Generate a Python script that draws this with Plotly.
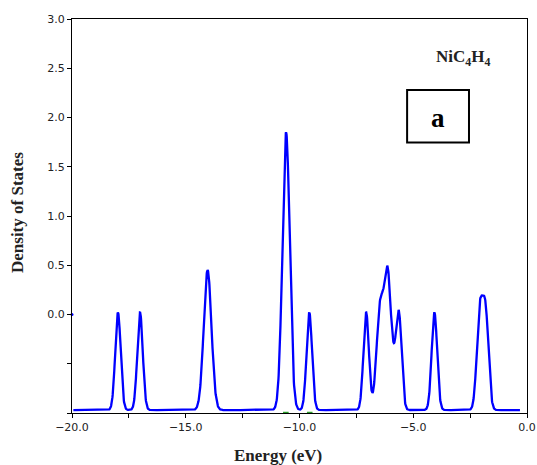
import numpy as np
import plotly.graph_objects as go

# Energy levels (eV), peak weights and broadening
level_energy = [-17.98, -17.01, -14.04, -10.59, -9.57, -7.07, -6.45, -6.12, -5.85, -5.63, -4.07, -2.08, -1.82]
level_weight = [0.99, 0.99, 1.42, 2.82, 0.99, 0.99, 1.05, 1.30, 0.30, 0.95, 0.99, 0.96, 0.96]
level_sigma = [0.12, 0.12, 0.17, 0.16, 0.12, 0.12, 0.16, 0.14, 0.12, 0.12, 0.12, 0.13, 0.13]
baseline = -0.97
e_start, e_end = -19.94, -0.31

x_ticks = [-20, -17.5, -15, -12.5, -10, -7.5, -5, -2.5, 0]
x_labels = ["\u221220.0", "", "\u221215.0", "", "\u221210.0", "", "\u22125.0", "", "0.0"]
y_ticks = [-1.0, -0.5, 0.0, 0.5, 1.0, 1.5, 2.0, 2.5, 3.0]
y_labels = ["", "", "0.0", "0.5", "1.0", "1.5", "2.0", "2.5", "3.0"]

energy = np.linspace(e_start, e_end, 2000)
dos = np.full_like(energy, baseline)
for e0, w, s in zip(level_energy, level_weight, level_sigma):
    dos += w * np.exp(-0.5 * ((energy - e0) / s) ** 2)

fig = go.Figure()
fig.add_trace(go.Scatter(x=energy, y=dos, mode="lines",
                         line=dict(color="#0000ff", width=2.3), showlegend=False))
# small blue mark at the origin of the y scale and tiny green marks near the axis
fig.add_trace(go.Scatter(x=[-20], y=[0.0], mode="markers",
                         marker=dict(color="#0000ff", size=3), showlegend=False, cliponaxis=False))
fig.add_trace(go.Scatter(x=[-10.6, -9.55], y=[-0.995, -0.995], mode="markers",
                         marker=dict(color="#2a9d2a", size=4, symbol="line-ew", line=dict(width=1.5, color="#2a9d2a")),
                         showlegend=False, cliponaxis=False))

axis_common = dict(showline=True, linecolor="black", linewidth=1, mirror=True, automargin=False,
                   ticks="outside", ticklen=4, tickcolor="black", showgrid=False, zeroline=False,
                   tickfont=dict(family="DejaVu Sans", size=11, color="#222"))

fig.update_layout(
    width=537, height=465,
    margin=dict(l=72, r=10, t=19, b=52),
    paper_bgcolor="white", plot_bgcolor="white",
    xaxis=dict(range=[-20, 0], tickvals=x_ticks, ticktext=x_labels, **axis_common),
    yaxis=dict(range=[-1, 3], tickvals=y_ticks, ticktext=y_labels, **axis_common),
)

# axis titles
fig.add_annotation(x=0.452, y=-0.108, xref="paper", yref="paper", showarrow=False,
                   xanchor="center", yanchor="middle",
                   text="<b>Energy (eV)</b>", font=dict(family="Liberation Serif", size=17, color="#222"))
fig.add_annotation(x=-0.121, y=0.51, xref="paper", yref="paper", showarrow=False, textangle=-90,
                   xanchor="center", yanchor="middle",
                   text="<b>Density of States</b>", font=dict(family="Liberation Serif", size=17, color="#222"))

fig.add_annotation(x=-2.83, y=2.6, xref="x", yref="y", showarrow=False,
                   text="<b>NiC<sub>4</sub>H<sub>4</sub></b>",
                   font=dict(family="Liberation Serif", size=17, color="#222"))
fig.add_shape(type="rect", x0=-5.27, x1=-2.55, y0=1.745, y1=2.28, xref="x", yref="y",
              line=dict(color="black", width=2), fillcolor="white")
fig.add_annotation(x=-3.91, y=2.0, xref="x", yref="y", showarrow=False,
                   text="<b>a</b>", font=dict(family="Liberation Serif", size=27, color="black"))

# remove the page's default body margin so the figure fills the window exactly
fig.write_html("out.html", config={"displayModeBar": False},
               post_script="document.body.style.margin='0';document.body.style.overflow='hidden';")
